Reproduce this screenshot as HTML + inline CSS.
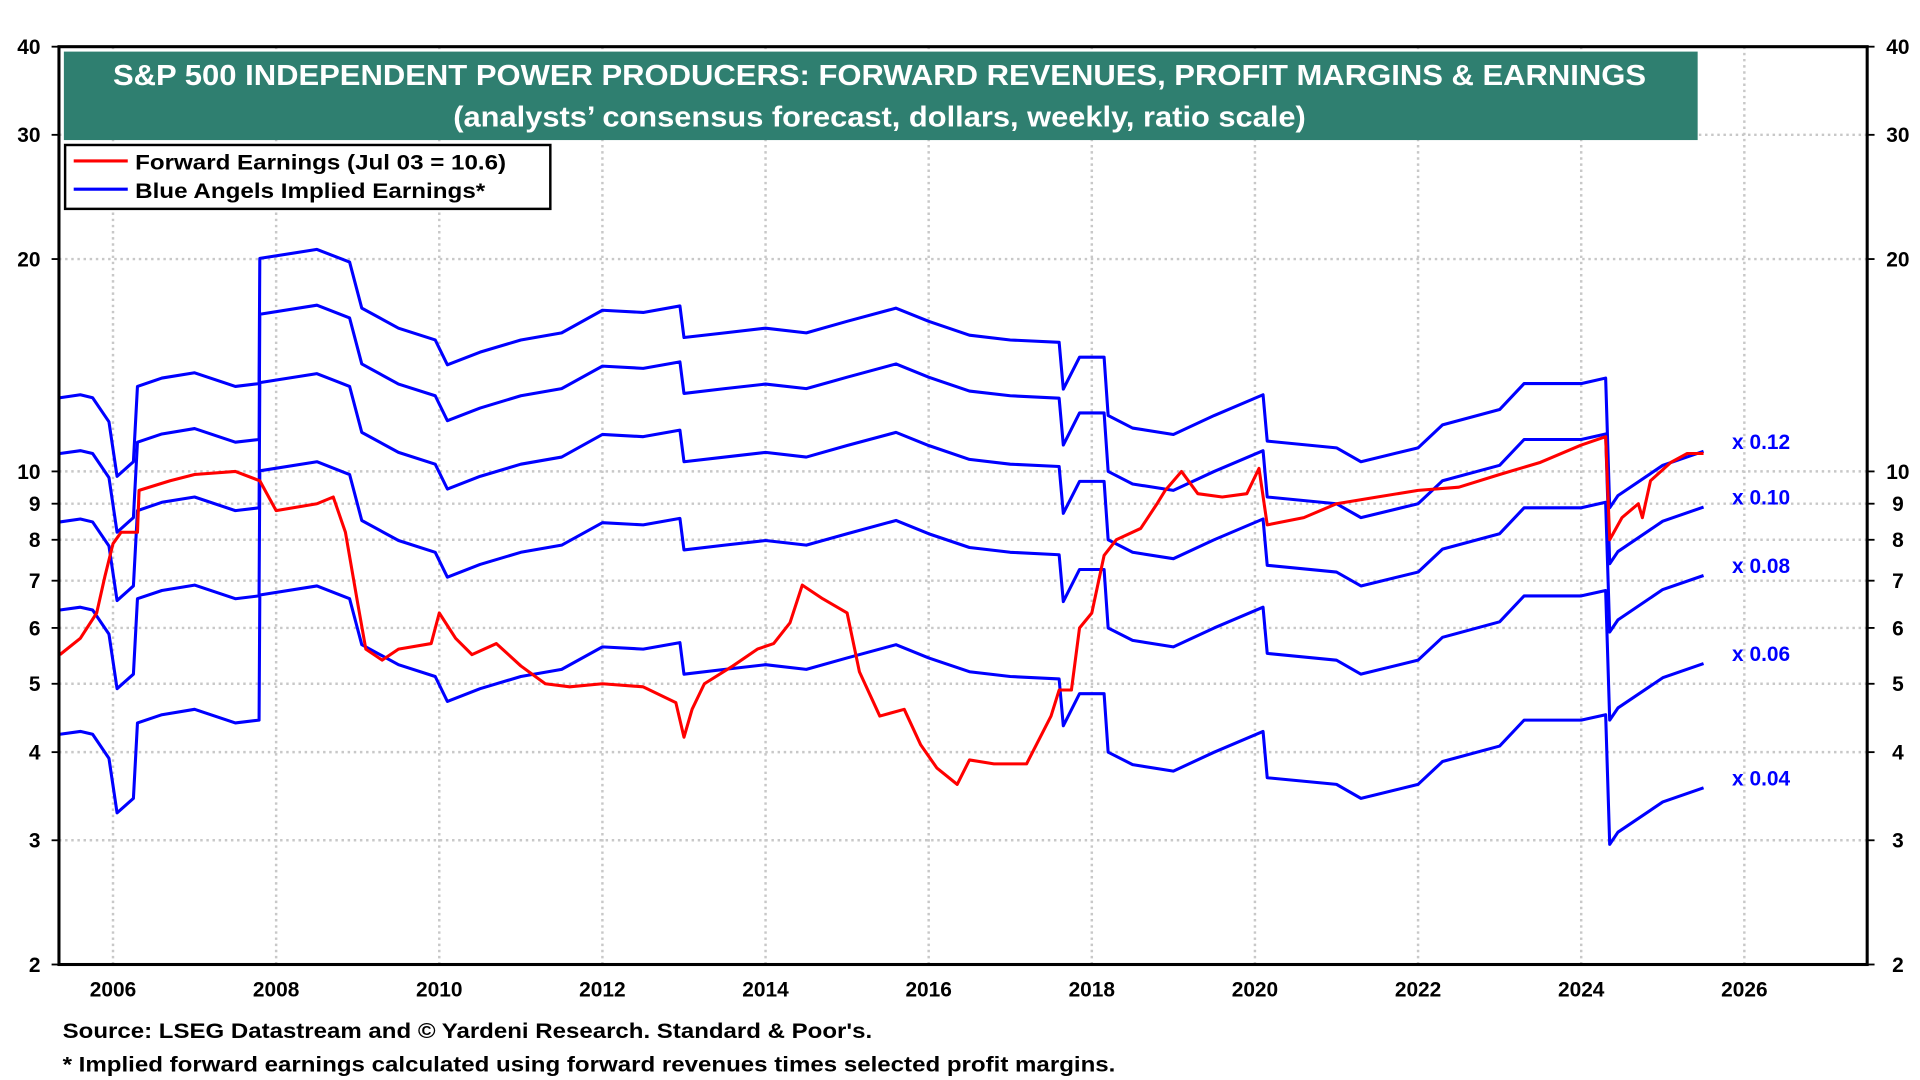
<!DOCTYPE html>
<html><head><meta charset="utf-8"><style>
html,body{margin:0;padding:0;background:#fff;}
svg{display:block;}
text{font-family:"Liberation Sans",Arial,sans-serif;font-weight:bold;}
</style></head><body>
<svg id="chart" width="1920" height="1080" viewBox="0 0 1563 879" preserveAspectRatio="none" xmlns="http://www.w3.org/2000/svg">
<g id="grid"></g>
<g id="series"></g>
<rect x="48" y="38" width="1472" height="747" fill="none" stroke="#000" stroke-width="2.5"/>
<g id="axes"></g>
<rect x="52" y="42" width="1330" height="72" fill="#2f7f70"/>
<text x="716" y="69" fill="#fff" font-size="23" text-anchor="middle" textLength="1248" lengthAdjust="spacingAndGlyphs">S&amp;P 500 INDEPENDENT POWER PRODUCERS: FORWARD REVENUES, PROFIT MARGINS &amp; EARNINGS</text>
<text x="716" y="103" fill="#fff" font-size="23" text-anchor="middle" textLength="694" lengthAdjust="spacingAndGlyphs">(analysts’ consensus forecast, dollars, weekly, ratio scale)</text>
<g>
<rect x="53" y="118" width="395" height="52" fill="#fff" stroke="#000" stroke-width="2"/>
<line x1="60" y1="131" x2="104" y2="131" stroke="#f00" stroke-width="2.5"/>
<text x="110" y="138" font-size="17" textLength="302" lengthAdjust="spacingAndGlyphs">Forward Earnings (Jul 03 = 10.6)</text>
<line x1="60" y1="154" x2="104" y2="154" stroke="#00f" stroke-width="2.5"/>
<text x="110" y="161" font-size="17" textLength="285" lengthAdjust="spacingAndGlyphs">Blue Angels Implied Earnings*</text>
</g>
<text x="51" y="845" font-size="17" textLength="659" lengthAdjust="spacingAndGlyphs">Source: LSEG Datastream and © Yardeni Research. Standard &amp; Poor's.</text>
<text x="51" y="872" font-size="17" textLength="857" lengthAdjust="spacingAndGlyphs">* Implied forward earnings calculated using forward revenues times selected profit margins.</text>
</svg>
<script>
const yTicks=[2,3,4,5,6,7,8,9,10,20,30,40];
const xTicks=[2006,2008,2010,2012,2014,2016,2018,2020,2022,2024,2026];
const margins=[0.04,0.06,0.08,0.10,0.12];
const marginLabels=["x 0.04","x 0.06","x 0.08","x 0.10","x 0.12"];
const revDates=[2005.35,2005.6,2005.75,2005.95,2006.05,2006.25,2006.3,2006.6,2007.0,2007.5,2007.79,2007.8,2008.5,2008.9,2009.05,2009.5,2009.95,2010.1,2010.5,2011.0,2011.5,2012.0,2012.5,2012.95,2013.0,2013.5,2014.0,2014.5,2015.0,2015.6,2016.0,2016.5,2017.0,2017.6,2017.65,2017.85,2018.15,2018.2,2018.5,2019.0,2019.5,2020.1,2020.15,2021.0,2021.3,2022.0,2022.3,2023.0,2023.3,2024.0,2024.3,2024.35,2024.45,2025.0,2025.5];
const revenue=[106,107,106,98,82,86,110,113,115,110,111,167,172,165,142,133,128,118,123,128,131,141,140,143,129,131,133,131,136,142,136,130,128,127,109,121,121,100,96,94,100,107,92,90,86,90,97,102,111,111,113,74,77,85,89];
const epsDates=[2005.35,2005.6,2005.8,2005.9,2006.0,2006.1,2006.3,2006.32,2006.7,2007.0,2007.5,2007.8,2008.0,2008.5,2008.7,2008.85,2009.0,2009.1,2009.3,2009.5,2009.9,2010.0,2010.2,2010.4,2010.7,2011.0,2011.3,2011.6,2012.0,2012.5,2012.9,2013.0,2013.1,2013.25,2013.6,2013.9,2014.1,2014.3,2014.45,2014.7,2015.0,2015.15,2015.4,2015.7,2015.9,2016.1,2016.35,2016.5,2016.8,2017.2,2017.5,2017.6,2017.75,2017.85,2018.0,2018.15,2018.3,2018.6,2018.8,2018.9,2019.1,2019.3,2019.6,2019.9,2020.05,2020.15,2020.6,2021.0,2021.5,2022.0,2022.5,2023.0,2023.5,2024.0,2024.3,2024.35,2024.5,2024.7,2024.75,2024.85,2025.1,2025.3,2025.5];
const eps=[5.5,5.8,6.3,7.1,7.9,8.2,8.2,9.4,9.7,9.9,10.0,9.7,8.8,9.0,9.2,8.2,6.5,5.6,5.4,5.6,5.7,6.3,5.8,5.5,5.7,5.3,5.0,4.95,5.0,4.95,4.7,4.2,4.6,5.0,5.3,5.6,5.7,6.1,6.9,6.6,6.3,5.2,4.5,4.6,4.1,3.8,3.6,3.9,3.85,3.85,4.5,4.9,4.9,6.0,6.3,7.6,8.0,8.3,9.0,9.4,10.0,9.3,9.2,9.3,10.1,8.4,8.6,9.0,9.2,9.4,9.5,9.9,10.3,10.9,11.2,8.0,8.6,9.0,8.6,9.7,10.3,10.6,10.6];
const L=48,R=1520,T=38,B=785;
const X=d=>92+(d-2006)*(1420-92)/20;
const Y=v=>T+Math.log(40/v)/Math.log(20)*(B-T);
const NS="http://www.w3.org/2000/svg";
function mk(tag,attrs,parent){const e=document.createElementNS(NS,tag);for(const k in attrs)e.setAttribute(k,attrs[k]);parent.appendChild(e);return e;}
const grid=document.getElementById('grid'),axes=document.getElementById('axes'),series=document.getElementById('series');
yTicks.forEach(v=>{
 const y=Y(v);
 const g=mk('line',{x1:L,x2:R,y1:y,y2:y,stroke:'#c8c8c8','stroke-width':2,'stroke-dasharray':'2 3'},grid);
 
 
 const t1=mk('text',{x:33,y:y+6,'font-size':17,'text-anchor':'end'},axes);t1.textContent=v;
 
 
 const t2=mk('text',{x:1545,y:y+6,'font-size':17,'text-anchor':'middle'},axes);t2.textContent=v;
 
 
 mk('line',{x1:L-6,x2:L,y1:y,y2:y,stroke:'#000','stroke-width':1.5},axes);
 mk('line',{x1:R,x2:R+6,y1:y,y2:y,stroke:'#000','stroke-width':1.5},axes);
});
xTicks.forEach(d=>{
 const x=X(d);
 const g=mk('line',{x1:x,x2:x,y1:T,y2:B,stroke:'#c8c8c8','stroke-width':2,'stroke-dasharray':'2 3'},grid);
 
 
 const t=mk('text',{x:x,y:811,'font-size':17,'text-anchor':'middle'},axes);t.textContent=d;
 
 
});
margins.forEach((m,i)=>{
 const pts=revDates.map((d,j)=>X(d).toFixed(1)+','+Y(revenue[j]*m).toFixed(1)).join(' ');
 const p=mk('polyline',{points:pts,fill:'none',stroke:'#0000ff','stroke-width':2.5,'stroke-linejoin':'round'},series);
 
 
 const last=revenue[revenue.length-1]*m;
 const t=mk('text',{x:1410,y:Y(last)-2,'font-size':17,fill:'#0000ff'},axes);t.textContent=marginLabels[i];
 
 
});
const pr=mk('polyline',{points:epsDates.map((d,j)=>X(d).toFixed(1)+','+Y(eps[j]).toFixed(1)).join(' '),fill:'none',stroke:'#ff0000','stroke-width':2.5,'stroke-linejoin':'round'},series);


</script>
</body></html>
